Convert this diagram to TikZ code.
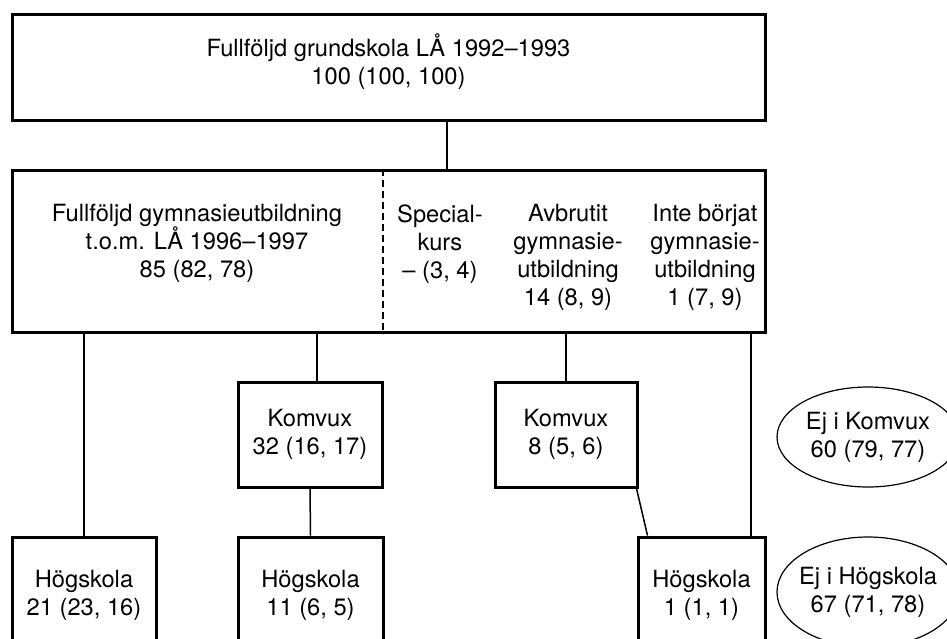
\documentclass[tikz,border=0pt]{standalone}
\usepackage{fontspec}
\setmainfont{TeX Gyre Heros}
\usetikzlibrary{shapes.geometric}

\tikzset{
  box/.style={draw, line width=1.5pt, inner sep=0pt, align=center, font=\fontsize{11.85}{14}\selectfont},
  txt/.style={inner sep=0pt, align=center, font=\fontsize{11.85}{14}\selectfont},
  oval/.style={draw, ellipse, line width=0.6pt, inner xsep=-4.3pt, inner ysep=0pt, minimum width=91pt, align=center, font=\fontsize{11.85}{14}\selectfont},
  link/.style={line width=0.75pt}
}

\begin{document}
\begin{tikzpicture}[x=0.5pt,y=-0.5pt]
\useasboundingbox (0,0) rectangle (947,638);
\clip (0,0) rectangle (947,638);

% top level
\node [box, minimum width=376.5pt, minimum height=53pt] (grund) at (388.5,67) {};
\node [txt] (grundtxt) at (388.5,62) {Fullföljd grundskola LÅ 1992–1993\\100 (100, 100)};

% gymnasium level, one box split by a dashed line
\node [box, minimum width=376.5pt, minimum height=81pt] (gym) at (388.5,251) {};
\node [txt, anchor=north] (fullf) at (197,204) {Fullföljd gymnasieutbildning\\t.o.m. LÅ 1996–1997\\85 (82, 78)};
\node [txt, anchor=north] (spec) at (440,204) {Special-\\kurs\\– (3, 4)};
\node [txt, anchor=north] (avbr) at (568,204) {Avbrutit\\gymnasie-\\utbildning\\14 (8, 9)};
\node [txt, anchor=north] (inte) at (705,204) {Inte börjat\\gymnasie-\\utbildning\\1 (7, 9)};
\coordinate (split) at (383,0);
\draw [line width=1.2pt, dash pattern=on 3.5pt off 2pt] (gym.north -| split) -- (gym.south -| split);

% komvux
\node [box, minimum width=72pt, minimum height=52.5pt] (kvA) at (310,434.5) {Komvux\\32 (16, 17)};
\node [box, minimum width=71pt, minimum height=52.5pt] (kvB) at (566,434.5) {Komvux\\8 (5, 6)};
\node [oval, minimum height=50pt] (ejkv) at (868,437) {Ej i Komvux\\60 (79, 77)};

% högskola
\node [box, minimum width=72pt, minimum height=58pt] (hogA) at (84,595) {Högskola\\21 (23, 16)};
\node [box, minimum width=72.5pt, minimum height=58pt] (hogB) at (310.5,595) {Högskola\\11 (6, 5)};
\node [box, minimum width=63.5pt, minimum height=58pt] (hogC) at (701.5,595) {Högskola\\1 (1, 1)};
\node [oval, minimum height=55pt] (ejhs) at (868,592) {Ej i Högskola\\67 (71, 78)};

% connectors
\coordinate (g1) at (447,0);
\coordinate (r1) at (751,0);
\draw [link] (grund.south -| g1) -- (gym.north -| g1);
\draw [link] (gym.south -| hogA.north) -- (hogA.north);
\draw [link] ([xshift=3.5pt]gym.south -| kvA.north) -- ([xshift=3.5pt]kvA.north);
\draw [link] (gym.south -| kvB.north) -- (kvB.north);
\draw [link] (gym.south -| r1) -- (hogC.north -| r1);
\draw [link] (kvA.south) -- (hogB.north);
\draw [link] ([xshift=-1pt]kvB.south east) -- ([xshift=5.5pt]hogC.north west);
\end{tikzpicture}
\end{document}
